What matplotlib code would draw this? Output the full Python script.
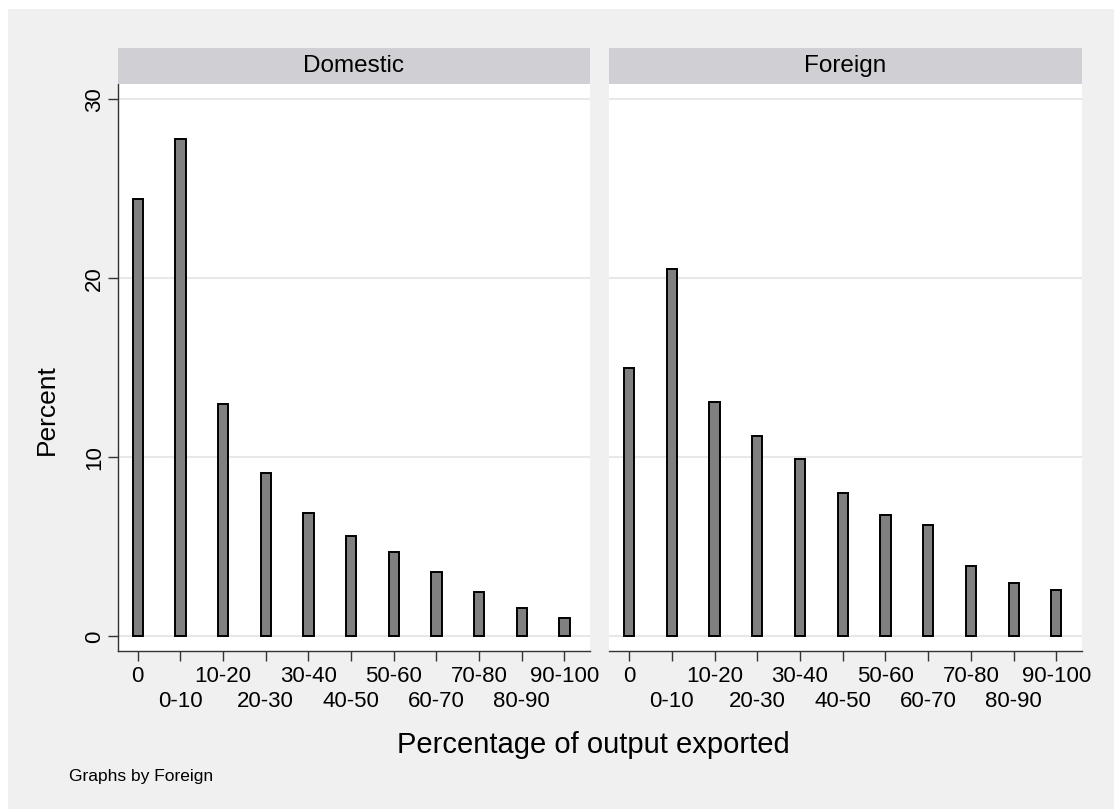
import matplotlib.pyplot as plt
from matplotlib.patches import Rectangle
import numpy as np

# categories and bar heights (percent)
cats = ["0", "0-10", "10-20", "20-30", "30-40", "40-50",
        "50-60", "60-70", "70-80", "80-90", "90-100"]
domestic = [24.4, 27.8, 13.0, 9.1, 6.9, 5.6, 4.7, 3.6, 2.5, 1.6, 1.05]
foreign = [15.0, 20.5, 13.1, 11.2, 9.9, 8.0, 6.8, 6.2, 3.9, 3.0, 2.6]
panels = ["Domestic", "Foreign"]
yticks = [0, 10, 20, 30]

plt.rcParams['font.family'] = ['Liberation Sans', 'DejaVu Sans']

W, H = 1114, 809
fig = plt.figure(figsize=(W / 100, H / 100), dpi=100, facecolor='white')
fig.patches.append(Rectangle((8 / W, 0), 1, 1 - 9 / H, transform=fig.transFigure,
                             facecolor='#f0f0f0', edgecolor='none', zorder=-10))

x = np.arange(len(cats))

lefts = [117.7, 609]
rights = [590, 1082]
bottom = 1 - 651 / H
top = 1 - 84 / H

for k, (name, vals) in enumerate(zip(panels, [domestic, foreign])):
    l = lefts[k] / W
    w = (rights[k] - lefts[k]) / W
    ax = fig.add_axes([l, bottom, w, top - bottom])
    ax.set_facecolor('white')
    ax.bar(x, vals, width=0.24, color='#808080', edgecolor='black',
           linewidth=1.4, zorder=3)
    ax.set_xlim(-0.47, 10.6)
    ax.set_ylim(-0.82, 30.85)
    ax.set_yticks(yticks)
    for yv in yticks:
        ax.axhline(yv, color='#e8e8e8', linewidth=1.5, zorder=1)
    # labels alternate between two rows
    ax.set_xticks(x[::2])
    ax.set_xticklabels(cats[::2], fontsize=16)
    ax.set_xticks(x[1::2], minor=True)
    ax.set_xticklabels(cats[1::2], minor=True, fontsize=16)
    ax.tick_params(axis='x', which='major', length=7, width=1,
                   color='#333333', pad=4)
    ax.tick_params(axis='x', which='minor', length=7, width=1,
                   color='#333333', pad=22)
    for s in ['top', 'right']:
        ax.spines[s].set_visible(False)
    ax.spines['bottom'].set_linewidth(1)
    ax.spines['bottom'].set_color('#333333')
    if k == 0:
        ax.spines['left'].set_linewidth(1)
        ax.spines['left'].set_color('#333333')
        ax.tick_params(axis='y', length=7, width=1, color='#333333', pad=2,
                       labelsize=16)
        for t in ax.get_yticklabels():
            t.set_rotation(90)
            t.set_va('center')
            t.set_ha('right')
    else:
        ax.spines['left'].set_visible(False)
        ax.tick_params(axis='y', length=0, labelleft=False)

    # strip header
    sax = fig.add_axes([l, top, w, 35.7 / H])
    sax.set_facecolor('#d0d0d4')
    sax.set_xticks([])
    sax.set_yticks([])
    for s in sax.spines.values():
        s.set_visible(False)
    sax.text(0.5, 0.5, name, ha='center', va='center', fontsize=17.5,
             transform=sax.transAxes)

fig.text(47 / W, 1 - 410 / H, "Percent", rotation=90, ha='center',
         va='center', fontsize=19)
fig.text(593 / W, 1 - 745 / H, "Percentage of output exported",
         ha='center', va='center', fontsize=21)
fig.text(69 / W, 1 - 777 / H, "Graphs by Foreign", ha='left',
         va='center', fontsize=12.5)

fig.savefig("out.png", dpi=100, facecolor=fig.get_facecolor())
